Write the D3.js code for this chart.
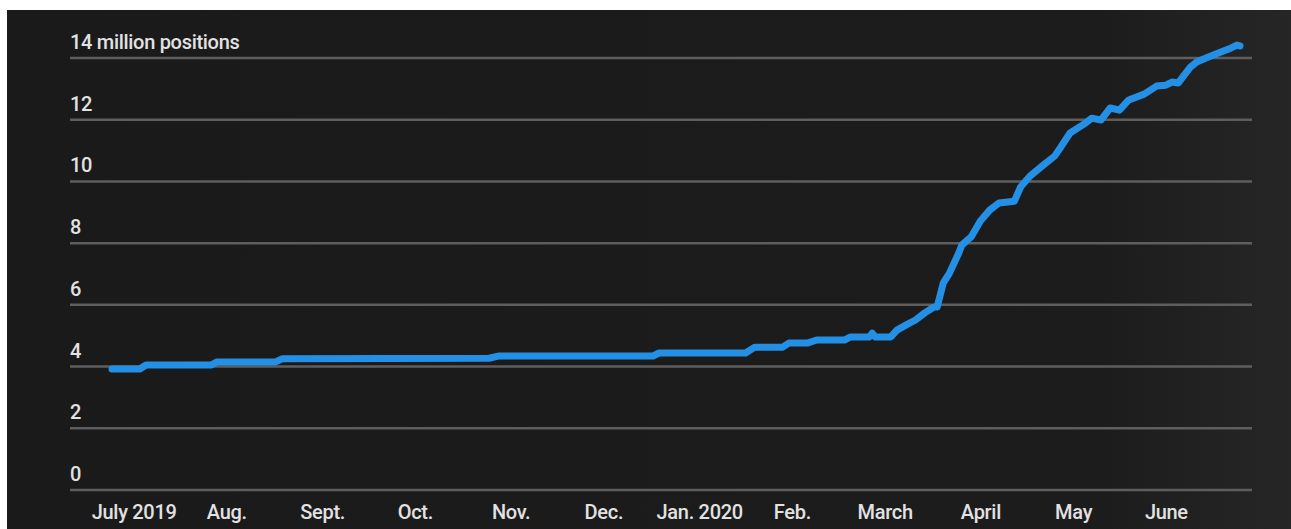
<!DOCTYPE html>
<html>
<head>
<meta charset="utf-8">
<script src="https://cdn.jsdelivr.net/npm/d3@7/dist/d3.min.js"></script>
<style>
  html, body { margin: 0; padding: 0; background: #ffffff; }
  svg { display: block; }
  text { font-family: Roboto, "Liberation Sans", Arial, sans-serif; font-weight: 500; }
</style>
</head>
<body>
<svg id="chart" width="1291" height="529"></svg>
<script>
// ---- data ----
const dates = [
  "2019-07-01","2019-07-10","2019-07-12","2019-08-02","2019-08-04","2019-08-23","2019-08-25",
  "2019-10-31","2019-11-03","2019-12-23","2019-12-25","2020-01-22","2020-01-25","2020-02-03",
  "2020-02-05","2020-02-11","2020-02-14","2020-02-23","2020-02-25","2020-03-02","2020-03-03",
  "2020-03-04","2020-03-09","2020-03-11","2020-03-14","2020-03-17","2020-03-20","2020-03-23",
  "2020-03-24","2020-03-26","2020-03-28","2020-03-31","2020-04-01","2020-04-04","2020-04-07",
  "2020-04-10","2020-04-13","2020-04-18","2020-04-20","2020-04-23","2020-04-27","2020-05-01",
  "2020-05-03","2020-05-06","2020-05-11","2020-05-13","2020-05-16","2020-05-19","2020-05-22",
  "2020-05-25","2020-05-30","2020-06-03","2020-06-06","2020-06-08","2020-06-10","2020-06-14",
  "2020-06-16","2020-06-19","2020-06-23","2020-06-27","2020-06-29","2020-06-30"
];
const positions = [
  3.92,3.92,4.05,4.05,4.15,4.15,4.25,
  4.27,4.34,4.34,4.44,4.44,4.63,4.63,
  4.76,4.76,4.86,4.86,4.96,4.96,5.08,
  4.96,4.96,5.18,5.35,5.51,5.74,5.93,
  5.93,6.71,7.03,7.68,7.94,8.2,8.72,
  9.07,9.3,9.36,9.82,10.17,10.5,10.82,
  11.11,11.57,11.89,12.05,11.99,12.38,12.31,
  12.64,12.83,13.09,13.12,13.22,13.19,13.71,
  13.87,14.0,14.16,14.32,14.42,14.39
];
const yTickValues = [0, 2, 4, 6, 8, 10, 12, 14];
const yTickLabels = ["0", "2", "4", "6", "8", "10", "12", "14 million positions"];
const xTickDates = ["2019-07-08","2019-08-07","2019-09-07","2019-10-07","2019-11-07","2019-12-07",
                    "2020-01-07","2020-02-06","2020-03-07","2020-04-07","2020-05-07","2020-06-06"];
const xTickLabels = ["July 2019","Aug.","Sept.","Oct.","Nov.","Dec.","Jan. 2020","Feb.","March","April","May","June"];

// ---- setup ----
const W = 1291, H = 529;
const svg = d3.select("#chart");
const parse = d3.timeParse("%Y-%m-%d");
const data = dates.map((d, i) => ({ date: parse(d), value: positions[i] }));

// background panel
const defs = svg.append("defs");
const grad = defs.append("linearGradient").attr("id", "bg").attr("x1", "0").attr("x2", "1").attr("y1", "0").attr("y2", "0");
grad.append("stop").attr("offset", "0").attr("stop-color", "#1b1a1b");
grad.append("stop").attr("offset", "0.85").attr("stop-color", "#1d1c1d");
grad.append("stop").attr("offset", "1").attr("stop-color", "#272627");
svg.append("rect").attr("x", 7).attr("y", 10).attr("width", W - 7).attr("height", H - 10).attr("fill", "url(#bg)");

const gridLeft = 70, gridRight = 1252;
const x = d3.scaleTime()
  .domain([parse("2019-07-01"), parse("2020-06-30")])
  .range([112, 1240]);
const y = d3.scaleLinear().domain([0, 14]).range([490, 58]);

// gridlines
svg.append("g").selectAll("line").data(yTickValues).join("line")
  .attr("x1", gridLeft).attr("x2", gridRight)
  .attr("y1", d => y(d)).attr("y2", d => y(d))
  .attr("stroke", "#5f5e5f").attr("stroke-width", 2.5);

// y labels
svg.append("g").selectAll("text").data(yTickValues).join("text")
  .attr("x", gridLeft)
  .attr("y", d => y(d) - 9)
  .attr("fill", "#e2e2e2")
  .attr("font-size", 20)
  .attr("letter-spacing", "-0.3")
  .text((d, i) => yTickLabels[i]);

// x labels via axis
const xAxis = d3.axisBottom(x)
  .tickValues(xTickDates.map(parse))
  .tickSize(0)
  .tickPadding(0)
  .tickFormat((d, i) => xTickLabels[i]);
const gx = svg.append("g").attr("transform", "translate(0,505)").call(xAxis);
gx.select(".domain").remove();
gx.selectAll("text")
  .attr("fill", "#e2e2e2")
  .attr("font-size", 20)
  .attr("letter-spacing", "-0.3")
  .attr("dy", "0.71em")
  .style("font-family", "Roboto, 'Liberation Sans', Arial, sans-serif")
  .style("font-weight", "500");

// line
const line = d3.line().x(d => x(d.date)).y(d => y(d.value)).curve(d3.curveLinear);
svg.append("path").datum(data)
  .attr("d", line)
  .attr("fill", "none")
  .attr("stroke", "#2390e6")
  .attr("stroke-width", 7)
  .attr("stroke-linejoin", "round")
  .attr("stroke-linecap", "round");
</script>
</body>
</html>
